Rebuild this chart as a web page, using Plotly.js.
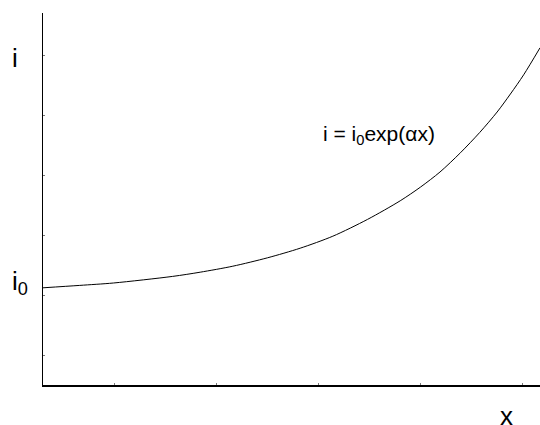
<!DOCTYPE html>
<html>
<head>
<meta charset="utf-8">
<script src="https://cdn.plot.ly/plotly-3.0.1.min.js"></script>
<style>
  html, body { margin: 0; padding: 0; background: #fff; }
  #chart { width: 540px; height: 425px; }
</style>
</head>
<body>
<div id="chart"></div>
<script>
// curve: i = i0 exp(ax)
const xVals = [0, 0.36, 0.69, 1.27, 1.54, 1.86, 2.20, 2.52, 2.84, 3.18, 3.50, 3.70, 3.89, 4.09, 4.28, 4.45, 4.58, 4.71, 4.87];
const iVals = [1.62, 1.66, 1.70, 1.81, 1.88, 1.98, 2.12, 2.28, 2.48, 2.76, 3.07, 3.30, 3.55, 3.87, 4.21, 4.55, 4.85, 5.17, 5.62];

const xTicks = [0.7, 1.7, 2.7, 3.7, 4.7];
const yTicks = [0.5, 1.5, 2.5, 3.5, 4.5, 5.5];

const FONT = { family: 'Liberation Sans, Arial, sans-serif', color: '#000' };

const curve = {
    x: xVals,
    y: iVals,
    mode: 'lines',
    line: { color: '#000', width: 1, shape: 'spline', smoothing: 0.8 },
    hoverinfo: 'skip',
    showlegend: false
};

const layout = {
    width: 540,
    height: 425,
    font: FONT,
    margin: { l: 43, r: 0, t: 13, b: 40 },
    xaxis: {
        range: [0, 4.87],
        tickvals: xTicks,
        showticklabels: false,
        ticks: 'inside', ticklen: 2, tickcolor: '#777', tickwidth: 1,
        showgrid: false, zeroline: false,
        showline: true, linecolor: '#000', linewidth: 1.5
    },
    yaxis: {
        range: [0, 6.2],
        tickvals: yTicks,
        showticklabels: false,
        ticks: 'inside', ticklen: 2, tickcolor: '#777', tickwidth: 1,
        showgrid: false, zeroline: false,
        showline: true, linecolor: '#000', linewidth: 1.5
    },
    annotations: [
        { xref: 'paper', yref: 'paper', x: -0.056, y: 0.88, text: 'i', showarrow: false,
          font: { size: 26 }, xanchor: 'center', yanchor: 'middle' },
        { xref: 'paper', yref: 'paper', x: -0.066, y: 0.275, text: 'i<sub>0</sub>', showarrow: false,
          font: { size: 26 }, xanchor: 'left', yanchor: 'middle' },
        { xref: 'paper', yref: 'paper', x: 0.932, y: -0.082, text: 'x', showarrow: false,
          font: { size: 26 }, xanchor: 'center', yanchor: 'middle' },
        { xref: 'paper', yref: 'paper', x: 0.559, y: 0.672, text: 'i = i<sub>0</sub>exp(αx)', showarrow: false,
          font: { size: 21 }, xanchor: 'left', yanchor: 'middle' }
    ],
    plot_bgcolor: 'white',
    paper_bgcolor: 'white'
};

Plotly.newPlot('chart', [curve], layout, { staticPlot: true, displayModeBar: false });
</script>
</body>
</html>
